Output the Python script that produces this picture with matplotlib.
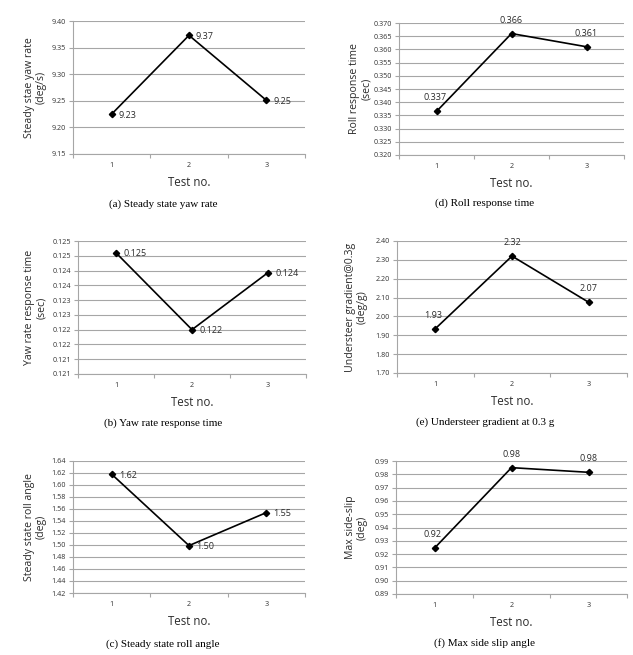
import matplotlib
matplotlib.use("Agg")
import matplotlib.pyplot as plt
from matplotlib.ticker import FixedLocator, NullFormatter

W, H = 633, 655
x_cats = ["1", "2", "3"]

# (a) Steady state yaw rate
a_vals = [9.225, 9.373, 9.251]
a_lbls = ["9.23", "9.37", "9.25"]
a_ticks = [9.15, 9.20, 9.25, 9.30, 9.35, 9.40]
a_tlbl = ["9.15", "9.20", "9.25", "9.30", "9.35", "9.40"]

# (d) Roll response time
d_vals = [0.3365, 0.366, 0.361]
d_lbls = ["0.337", "0.366", "0.361"]
d_ticks = [0.320, 0.325, 0.330, 0.335, 0.340, 0.345, 0.350, 0.355, 0.360, 0.365, 0.370]
d_tlbl = ["0.320", "0.325", "0.330", "0.335", "0.340", "0.345", "0.350", "0.355", "0.360", "0.365", "0.370"]

# (b) Yaw rate response time
b_vals = [0.12460, 0.12200, 0.12393]
b_lbls = ["0.125", "0.122", "0.124"]
b_ticks = [0.1205, 0.1210, 0.1215, 0.1220, 0.1225, 0.1230, 0.1235, 0.1240, 0.1245, 0.1250]
b_tlbl = ["0.121", "0.121", "0.122", "0.122", "0.123", "0.123", "0.124", "0.124", "0.125", "0.125"]

# (e) Understeer gradient
e_vals = [1.935, 2.32, 2.075]
e_lbls = ["1.93", "2.32", "2.07"]
e_ticks = [1.70, 1.80, 1.90, 2.00, 2.10, 2.20, 2.30, 2.40]
e_tlbl = ["1.70", "1.80", "1.90", "2.00", "2.10", "2.20", "2.30", "2.40"]

# (c) Steady state roll angle
c_vals = [1.618, 1.499, 1.554]
c_lbls = ["1.62", "1.50", "1.55"]
c_ticks = [1.42, 1.44, 1.46, 1.48, 1.50, 1.52, 1.54, 1.56, 1.58, 1.60, 1.62, 1.64]
c_tlbl = ["1.42", "1.44", "1.46", "1.48", "1.50", "1.52", "1.54", "1.56", "1.58", "1.60", "1.62", "1.64"]

# (f) Max side slip angle
f_vals = [0.9245, 0.985, 0.9815]
f_lbls = ["0.92", "0.98", "0.98"]
f_ticks = [0.89, 0.90, 0.91, 0.92, 0.93, 0.94, 0.95, 0.96, 0.97, 0.98, 0.99]
f_tlbl = ["0.89", "0.90", "0.91", "0.92", "0.93", "0.94", "0.95", "0.96", "0.97", "0.98", "0.99"]

fig = plt.figure(figsize=(W / 100, H / 100), dpi=100)
fig.patch.set_facecolor("white")

SANS = "Open Sans"
SERIF = "Liberation Serif"
GRID = "#a6a6a6"
TXT = "#2b2b2b"


def make_panel(box, vals, lbls, ticks, tlbl, ylabel, ylab_x, caption, cap_xy, lbl_mode):
    l, r, t, b = box
    ax = fig.add_axes([l / W, 1 - b / H, (r - l) / W, (b - t) / H])
    xs = [0.5, 1.5, 2.5]
    ax.plot(xs, vals, color="black", lw=1.2, marker="D", ms=3.2, zorder=3)
    ax.set_xlim(0, 3)
    ax.set_ylim(ticks[0], ticks[-1])
    ax.set_yticks(ticks)
    ax.set_yticklabels(tlbl, fontsize=5.2, family=SANS, color="#333333")
    ax.xaxis.set_major_locator(FixedLocator([0, 1, 2, 3]))
    ax.xaxis.set_major_formatter(NullFormatter())
    ax.xaxis.set_minor_locator(FixedLocator(xs))
    ax.set_xticklabels(x_cats, minor=True, fontsize=5.2, family=SANS, color="#333333")
    ax.tick_params(axis="x", which="major", length=3, color=GRID, direction="out")
    ax.tick_params(axis="x", which="minor", length=0, pad=6)
    ax.tick_params(axis="y", length=3, color=GRID, pad=2)
    ax.grid(axis="y", color=GRID, lw=0.8)
    ax.set_axisbelow(True)
    for s in ["top", "right"]:
        ax.spines[s].set_visible(False)
    for s in ["left", "bottom"]:
        ax.spines[s].set_color(GRID)
        ax.spines[s].set_linewidth(0.8)
    ax.set_xlabel("Test no.", fontsize=8.3, family=SANS, color=TXT, labelpad=5)
    ax.set_ylabel(ylabel, fontsize=7.6, family=SANS, color=TXT, linespacing=1.15)
    ax.yaxis.set_label_coords((ylab_x - l) / (r - l), 0.5)
    for i, (x, v, s) in enumerate(zip(xs, vals, lbls)):
        mode = lbl_mode[i]
        if mode == "r":
            ax.annotate(s, (x, v), xytext=(7, -1), textcoords="offset pixels",
                        ha="left", va="center", fontsize=6.5, family=SANS, color=TXT)
        else:
            ax.annotate(s, (x, v), xytext=(-2 if i == 0 else 0, 9), textcoords="offset pixels",
                        ha="center", va="bottom", fontsize=6.5, family=SANS, color=TXT)
    fig.text(cap_xy[0] / W, 1 - cap_xy[1] / H, caption, ha="center", va="center",
             fontsize=8, family=SERIF, color="black")
    return ax


make_panel((73, 305, 21, 154), a_vals, a_lbls, a_ticks, a_tlbl,
           "Steady stae yaw rate\n(deg/s)", 47, "(a) Steady state yaw rate", (163, 204), "rrr")
make_panel((399, 624, 23, 155), d_vals, d_lbls, d_ticks, d_tlbl,
           "Roll response time\n(sec)", 372, "(d) Roll response time", (485, 203), "aaa")
make_panel((78, 306, 241, 374), b_vals, b_lbls, b_ticks, b_tlbl,
           "Yaw rate response time\n(sec)", 47, "(b) Yaw rate response time", (163, 423), "rrr")
make_panel((397, 627, 241, 373), e_vals, e_lbls, e_ticks, e_tlbl,
           "Understeer gradient@0.3g\n(deg/g)", 368, "(e) Understeer gradient at 0.3 g", (485, 422), "aaa")
make_panel((73, 305, 461, 593), c_vals, c_lbls, c_ticks, c_tlbl,
           "Steady state roll angle\n(deg)", 47, "(c) Steady state roll angle", (163, 644), "rrr")
make_panel((396, 627, 461, 594), f_vals, f_lbls, f_ticks, f_tlbl,
           "Max side-slip\n(deg)", 368, "(f) Max side slip angle", (485, 643), "aaa")

fig.savefig("out.png", dpi=100, facecolor="white")
